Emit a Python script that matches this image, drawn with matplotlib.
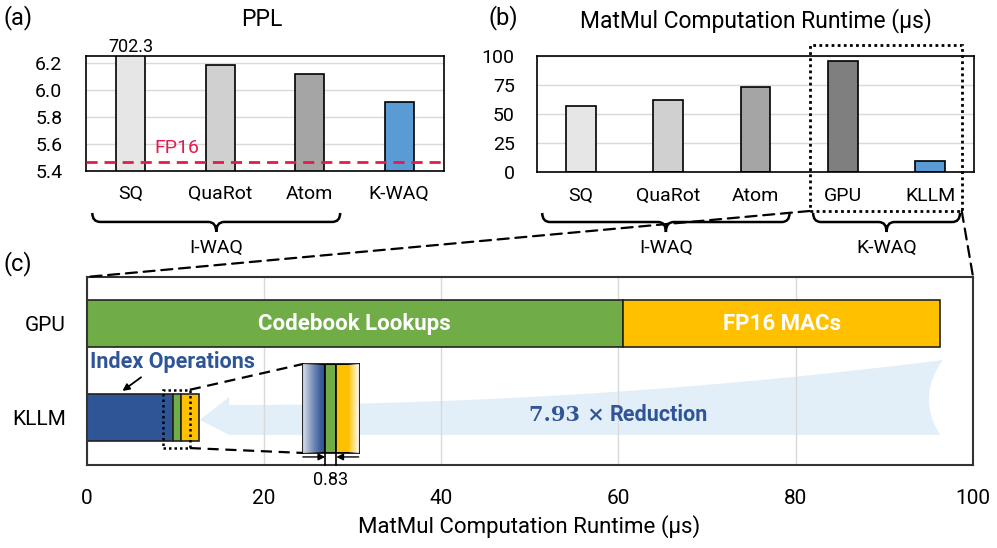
import numpy as np
import matplotlib.pyplot as plt
import matplotlib.transforms as mtransforms
from matplotlib.patches import Rectangle, Polygon, PathPatch, ConnectionPatch
from matplotlib.path import Path

plt.rcParams['font.family'] = ['Roboto', 'DejaVu Sans']

# (a) perplexity
ppl_methods = ['SQ', 'QuaRot', 'Atom', 'K-WAQ']
ppl_values = [702.3, 6.19, 6.12, 5.91]
ppl_colors = ['#E7E6E6', '#D0D0D0', '#A5A5A5', '#5B9BD5']
fp16_ppl = 5.47

# (b) matmul runtime (us)
rt_methods = ['SQ', 'QuaRot', 'Atom', 'GPU', 'KLLM']
rt_values = [57.2, 62.4, 73.2, 95.7, 9.7]
rt_colors = ['#E7E6E6', '#D0D0D0', '#A5A5A5', '#7F7F7F', '#5B9BD5']

# (c) runtime breakdown (us)
bd_rows = ['KLLM', 'GPU']
bd_index_ops = [9.8, 0.0]
bd_lookups = [0.83, 60.5]
bd_macs = [2.05, 35.8]
reduction = 7.93

BLUE = '#2F5597'
GREEN = '#70AD47'
YELLOW = '#FFC000'

fig = plt.figure(figsize=(9.97, 5.48), dpi=100)
ax_a = fig.add_axes([0.0863, 0.688, 0.359, 0.2099])
ax_b = fig.add_axes([0.5386, 0.6861, 0.4383, 0.2117])
ax_c = fig.add_axes([0.0868, 0.1515, 0.8892, 0.3431])


def brace(ax, x0, x1, y_top, y_mid, y_tip, r, label, y_label):
    tr = mtransforms.blended_transform_factory(ax.transData, ax.transAxes)
    xm = (x0 + x1) / 2
    verts = [(x0, y_top), (x0, y_mid), (x0 + r, y_mid), (xm - r, y_mid),
             (xm, y_mid), (xm, y_tip), (xm, y_mid), (xm + r, y_mid),
             (x1 - r, y_mid), (x1, y_mid), (x1, y_top)]
    codes = [Path.MOVETO, Path.CURVE3, Path.CURVE3, Path.LINETO,
             Path.CURVE3, Path.CURVE3, Path.CURVE3, Path.CURVE3,
             Path.LINETO, Path.CURVE3, Path.CURVE3]
    ax.add_patch(PathPatch(Path(verts, codes), transform=tr, fill=False,
                           lw=1.8, color='black', clip_on=False))
    ax.text(xm, y_label, label, transform=tr, ha='center', va='center', fontsize=14)


# ---- (a) PPL ----
xa = np.arange(len(ppl_methods))
ax_a.bar(xa, ppl_values, width=0.32, color=ppl_colors, edgecolor='black', lw=1.2, zorder=2)
ax_a.axhline(fp16_ppl, color='#E31B4C', ls=(0, (4, 2.5)), lw=2, zorder=3)
ax_a.text(0.52, fp16_ppl + 0.1, 'FP16', color='#E31B4C', fontsize=14, ha='center', va='center')
ax_a.set_xlim(-0.5, len(ppl_methods) - 0.5)
ax_a.set_ylim(5.4, 6.255)
ax_a.set_yticks(np.arange(5.4, 6.21, 0.2))
ax_a.set_yticklabels([f'{v:.1f}' for v in np.arange(5.4, 6.21, 0.2)])
ax_a.set_xticks(xa)
ax_a.set_xticklabels(ppl_methods)
ax_a.tick_params(axis='both', length=0, labelsize=14)
ax_a.tick_params(axis='x', pad=10)
ax_a.tick_params(axis='y', pad=17)
ax_a.grid(axis='y', color='#D9D9D9', lw=1)
ax_a.set_axisbelow(True)
for s in ax_a.spines.values():
    s.set_linewidth(1.2)
tra = mtransforms.blended_transform_factory(ax_a.transData, ax_a.transAxes)
ax_a.text(0, 1.0, f'{ppl_values[0]}', transform=tra, ha='center', va='bottom', fontsize=13)
brace(ax_a, -0.43, 2.34, -0.365, -0.443, -0.53, 0.09, 'I-WAQ', -0.67)

# ---- (b) runtime ----
xb = np.arange(len(rt_methods))
ax_b.bar(xb, rt_values, width=0.34, color=rt_colors, edgecolor='black', lw=1.2, zorder=2)
ax_b.set_xlim(-0.5, len(rt_methods) - 0.5)
ax_b.set_ylim(0, 100)
ax_b.set_yticks([0, 25, 50, 75, 100])
ax_b.set_xticks(xb)
ax_b.set_xticklabels(rt_methods)
ax_b.tick_params(axis='both', length=0, labelsize=14)
ax_b.tick_params(axis='x', pad=11)
ax_b.tick_params(axis='y', pad=16)
ax_b.grid(axis='y', color='#D9D9D9', lw=1)
ax_b.set_axisbelow(True)
for s in ax_b.spines.values():
    s.set_linewidth(1.2)
brace(ax_b, -0.44, 2.39, -0.353, -0.431, -0.517, 0.09, 'I-WAQ', -0.655)
brace(ax_b, 2.66, 4.34, -0.353, -0.431, -0.517, 0.09, 'K-WAQ', -0.655)
ax_b.add_patch(Rectangle((2.62, -33.6), 1.74, 143.1, fill=False, ls=(0, (1, 1.2)),
                         lw=2, color='black', clip_on=False, zorder=5))

# ---- (c) breakdown ----
yc = np.arange(len(bd_rows))
left2 = np.array(bd_index_ops) + np.array(bd_lookups)
ax_c.barh(yc, bd_index_ops, height=0.5, color=BLUE, edgecolor='#222222', lw=1.2, zorder=2)
ax_c.barh(yc, bd_lookups, left=bd_index_ops, height=0.5, color=GREEN, edgecolor='#222222', lw=1.2, zorder=2)
ax_c.barh(yc, bd_macs, left=left2, height=0.5, color=YELLOW, edgecolor='#222222', lw=1.2, zorder=2)
ax_c.set_xlim(0, 100)
ax_c.set_ylim(-0.5, 1.5)
ax_c.set_xticks(np.arange(0, 101, 20))
ax_c.set_yticks(yc)
ax_c.set_yticklabels(bd_rows)
ax_c.tick_params(axis='both', length=0, labelsize=15)
ax_c.tick_params(axis='x', pad=17)
ax_c.tick_params(axis='y', pad=15)
ax_c.grid(axis='x', color='#D9D9D9', lw=1)
ax_c.set_axisbelow(True)
for s in ax_c.spines.values():
    s.set_linewidth(1.5)
    s.set_color('#333333')
fig.text(529 / 997, 1 - 527 / 548, 'MatMul Computation Runtime (μs)', fontsize=16,
         ha='center', va='center')

gi = bd_rows.index('GPU')
ax_c.text(bd_lookups[gi] / 2, gi, 'Codebook Lookups', color='white', fontsize=16,
          fontweight='bold', ha='center', va='center', zorder=4)
ax_c.text(bd_lookups[gi] + bd_macs[gi] / 2, gi, 'FP16 MACs', color='white', fontsize=16,
          fontweight='bold', ha='center', va='center', zorder=4)

# reduction arrow
ki = bd_rows.index('KLLM')
k_total = bd_index_ops[ki] + bd_lookups[ki] + bd_macs[ki]
g_total = bd_index_ops[gi] + bd_lookups[gi] + bd_macs[gi]
x_tip = k_total + 0.1
x_head = x_tip + 3.3
x_end = g_total + 0.3
y_bot, y_sh, y_top_end = -0.18, 0.138, 0.617
xs = np.linspace(x_head, x_end, 60)
top = y_sh + (y_top_end - y_sh) * ((xs - x_head) / (x_end - x_head)) ** 2
t = np.linspace(0, 1, 30)
p0 = np.array([x_end, y_top_end]); p2 = np.array([x_end - 0.3, y_bot]); c = np.array([x_end - 3.0, 0.22])
arc = ((1 - t) ** 2)[:, None] * p0 + (2 * (1 - t) * t)[:, None] * c + (t ** 2)[:, None] * p2
verts = [(x_tip, -0.02), (x_head, 0.223), (x_head, y_sh)] + list(zip(xs, top)) + \
        [tuple(p) for p in arc] + [(x_head, y_bot)]
ax_c.add_patch(Polygon(verts, closed=True, color='#DDEBF7', alpha=0.8, lw=0, zorder=0.3))
ax_c.text(58.4, 0.03, f'{reduction:.2f} ×', family=['DejaVu Serif'], fontweight='bold',
          color=BLUE, fontsize=15, ha='right', va='center', zorder=4)
ax_c.text(59.0, 0.03, 'Reduction', color=BLUE, fontsize=15.5, fontweight='bold',
          ha='left', va='center', zorder=4)

ax_c.text(0.4, 0.6, 'Index Operations', color=BLUE, fontsize=15.5, fontweight='bold',
          ha='left', va='center', zorder=4)
ax_c.annotate('', xy=(3.8, 0.27), xytext=(6.4, 0.45),
              arrowprops=dict(arrowstyle='-|>', color='black', lw=1.3), zorder=4)

# zoomed view of the KLLM segments
be = bd_index_ops[ki]
ge = be + bd_lookups[ki]
ax_c.add_patch(Rectangle((8.63, -0.32), 3.02, 0.62, fill=False, ls=(0, (1, 1.2)),
                         lw=1.8, color='black', zorder=5))
ins_x, ins_y, ins_w, ins_h = 24.4, -0.372, 6.3, 0.946
ax_c.plot([11.65, ins_x], [0.30, ins_y + ins_h], color='black', ls=(0, (5, 3)), lw=1.6, zorder=5)
ax_c.plot([11.65, ins_x], [-0.32, ins_y], color='black', ls=(0, (5, 3)), lw=1.6, zorder=5)
ins = ax_c.inset_axes([ins_x, ins_y, ins_w, ins_h], transform=ax_c.transData, zorder=6)
ins.barh(0, bd_index_ops[ki], height=1, color=BLUE, edgecolor='black', lw=1.2)
ins.barh(0, bd_lookups[ki], left=be, height=1, color=GREEN, edgecolor='black', lw=1.2)
ins.barh(0, bd_macs[ki], left=ge, height=1, color=YELLOW, edgecolor='black', lw=1.2)
x0, x1 = be - 1.66, ge + 1.66
gl = np.zeros((1, 100, 4)); gl[..., :3] = 1; gl[0, :, 3] = np.linspace(0.85, 0, 100) ** 1.3
ins.imshow(gl, extent=(x0, be - 0.1, -0.5, 0.5), aspect='auto', zorder=3)
gr = np.zeros((1, 100, 4)); gr[..., :3] = 1; gr[0, :, 3] = np.linspace(0, 0.95, 100)
ins.imshow(gr, extent=(x1 - 0.8, x1, -0.5, 0.5), aspect='auto', zorder=3)
ins.set_xlim(x0, x1)
ins.set_ylim(-0.5, 0.5)
ins.set_xticks([]); ins.set_yticks([])
for s in ins.spines.values():
    s.set_linewidth(1.2)
tri = mtransforms.blended_transform_factory(ins.transData, ins.transAxes)
for xv in (be, ge):
    ins.plot([xv, xv], [0, -0.135], transform=tri, color='black', lw=1.2, clip_on=False)
ins.annotate('', xy=(be, -0.045), xycoords=tri, xytext=(x0, -0.045), textcoords=tri,
             arrowprops=dict(arrowstyle='-|>', color='black', lw=1, shrinkA=0, shrinkB=0))
ins.annotate('', xy=(ge, -0.045), xycoords=tri, xytext=(x1, -0.045), textcoords=tri,
             arrowprops=dict(arrowstyle='-|>', color='black', lw=1, shrinkA=0, shrinkB=0))
ins.text((be + ge) / 2, -0.3, f'{bd_lookups[ki]}', transform=tri, ha='center', va='center',
         fontsize=13, clip_on=False)

# connectors from (b) to (c)
for xa_, xc_ in ((2.62, 0), (4.36, 1)):
    con = ConnectionPatch(xyA=(xa_, -33.6), coordsA=ax_b.transData,
                          xyB=(xc_, 1), coordsB=ax_c.transAxes,
                          color='black', ls=(0, (5, 3)), lw=1.6)
    fig.add_artist(con)

# titles and panel letters
fig.text(18 / 997, 1 - 18 / 548, '(a)', fontsize=17, ha='center', va='center')
fig.text(503 / 997, 1 - 18 / 548, '(b)', fontsize=17, ha='center', va='center')
fig.text(18 / 997, 1 - 264 / 548, '(c)', fontsize=17, ha='center', va='center')
fig.text(262 / 997, 1 - 20 / 548, 'PPL', fontsize=16.5, ha='center', va='center')
fig.text(756 / 997, 1 - 21 / 548, 'MatMul Computation Runtime (μs)', fontsize=16.5,
         ha='center', va='center')

fig.savefig('out.png', dpi=100)
